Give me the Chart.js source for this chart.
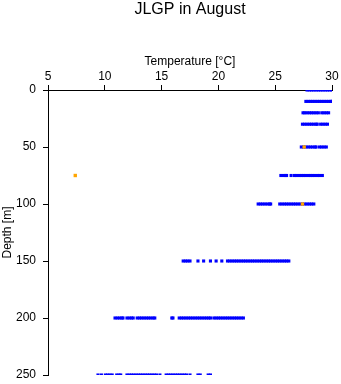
<!DOCTYPE html>
<html>
<head>
<meta charset="utf-8">
<script src="https://cdn.jsdelivr.net/npm/chart.js@4.4.0/dist/chart.umd.min.js"></script>
<style>
  html, body { margin: 0; padding: 0; background: #fff; }
</style>
</head>
<body>
<canvas id="chart" width="341" height="384"></canvas>
<script>
// Temperature readings [°C] at each sampled depth [m]
const temps0   = [27.8, 28.0, 28.2, 28.4, 28.6, 28.8, 29.0, 29.2, 29.4, 29.6, 29.8, 30.0, 30.1];
const temps10  = [27.7, 27.9, 28.1, 28.3, 28.5, 28.7, 28.9, 29.1, 29.3, 29.5, 29.7, 29.9, 30.0];
const temps20  = [27.45, 27.6, 27.8, 28.0, 28.2, 28.4, 28.6, 28.8, 29.1, 29.3, 29.5, 29.7];
const temps30  = [27.4, 27.6, 27.8, 28.0, 28.2, 28.4, 28.6, 28.7, 29.0, 29.2, 29.4, 29.6];
const temps50  = [27.3, 27.5, 27.7, 27.9, 28.1, 28.3, 28.5, 28.6, 28.9, 29.1, 29.3, 29.5];
const temps75  = [25.5, 25.7, 25.9, 26.0, 26.4, 26.7, 26.9, 27.1, 27.3, 27.5, 27.7, 27.9, 28.1,
                  28.3, 28.5, 28.7, 28.9, 29.15];
const temps100 = [23.5, 23.7, 23.9, 24.1, 24.3, 24.5, 24.6, 25.4, 25.6, 25.8, 26.0, 26.2, 26.4,
                  26.6, 26.8, 27.0, 27.2, 27.4, 27.6, 27.8, 28.0, 28.2, 28.4];
const temps150 = [16.9, 17.1, 17.3, 17.5, 18.2, 18.7, 19.3, 19.8, 20.3, 20.8, 21.0, 21.2, 21.4,
                  21.6, 21.8, 22.0, 22.2, 22.4, 22.6, 22.8, 23.0, 23.2, 23.4, 23.6, 23.8, 24.0,
                  24.2, 24.4, 24.6, 24.8, 25.0, 25.2, 25.4, 25.6, 25.8, 26.0, 26.2];
const temps200 = [10.9, 11.1, 11.3, 11.5, 11.6, 11.95, 12.15, 12.35, 12.5, 12.85, 13.05, 13.25,
                  13.45, 13.65, 13.85, 14.05, 14.25, 14.4, 15.9, 16.0, 16.55, 16.75, 16.95, 17.15,
                  17.35, 17.55, 17.75, 17.95, 18.15, 18.35, 18.55, 18.75, 18.95, 19.15, 19.3,
                  19.6, 19.8, 20.0, 20.2, 20.4, 20.6, 20.8, 21.0, 21.2, 21.4, 21.6, 21.8, 22.0, 22.2];
const temps250 = [9.4, 9.7, 10.05, 10.25, 10.45, 10.65, 11.05, 11.25, 11.4, 11.95, 12.15, 12.35,
                  12.55, 12.75, 12.95, 13.15, 13.35, 13.55, 13.75, 13.95, 14.15, 14.35, 14.55,
                  14.85, 15.4, 15.6, 15.8, 16.0, 16.2, 16.4, 16.6, 16.8, 17.0, 17.2, 17.5,
                  18.2, 18.4, 19.1, 19.3];

const depths = [0, 10, 20, 30, 50, 75, 100, 150, 200, 250];
const tempRows = [temps0, temps10, temps20, temps30, temps50, temps75, temps100, temps150, temps200, temps250];

// Highlighted (orange) readings
const orangeTemps  = [7.4, 27.55, 27.4];
const orangeDepths = [75, 50, 100];

const xTicks = [5, 10, 15, 20, 25, 30];
const yTicks = [0, 50, 100, 150, 200, 250];

const bluePoints = [];
depths.forEach((d, i) => {
    tempRows[i].forEach(t => bluePoints.push({ x: t, y: d }));
});
const orangePoints = orangeTemps.map((t, i) => ({ x: t, y: orangeDepths[i] }));

const FONT = "'Liberation Sans', Arial, sans-serif";

// Title centred over the plot area
const titlePlugin = {
    id: 'plotTitle',
    afterDraw(chart) {
        const ctx = chart.ctx;
        const area = chart.chartArea;
        ctx.save();
        ctx.fillStyle = '#000';
        ctx.font = '16px ' + FONT;
        ctx.textAlign = 'center';
        ctx.textBaseline = 'middle';
        ctx.fillText('JLGP in August', (area.left + area.right) / 2, 10);
        ctx.restore();
    }
};

new Chart(document.getElementById('chart'), {
    type: 'scatter',
    data: {
        // first dataset is drawn on top, so orange goes first
        datasets: [
            {
                data: orangePoints,
                backgroundColor: '#ffa500',
                borderWidth: 0,
                pointStyle: 'rect',
                pointRadius: 2.4
            },
            {
                data: bluePoints,
                backgroundColor: '#0000ff',
                borderWidth: 0,
                pointStyle: 'rect',
                pointRadius: 2.2
            }
        ]
    },
    options: {
        responsive: false,
        animation: false,
        layout: {
            padding: { top: 54, right: 9, bottom: 9, left: 0 }
        },
        plugins: {
            legend: { display: false },
            tooltip: { enabled: false }
        },
        scales: {
            x: {
                type: 'linear',
                position: 'top',
                min: 5,
                max: 30,
                afterBuildTicks: s => { s.ticks = xTicks.map(v => ({ value: v })); },
                afterFit: s => { s.height = 36; },
                ticks: {
                    color: '#000',
                    padding: 1,
                    font: { size: 12, family: FONT }
                },
                grid: {
                    drawOnChartArea: false,
                    drawTicks: true,
                    tickLength: 5,
                    color: '#000'
                },
                border: { color: '#000', width: 1 },
                title: {
                    display: true,
                    text: 'Temperature [°C]',
                    color: '#000',
                    padding: 0,
                    font: { size: 12, family: FONT }
                }
            },
            y: {
                type: 'linear',
                reverse: true,
                min: 0,
                max: 250,
                afterBuildTicks: s => { s.ticks = yTicks.map(v => ({ value: v })); },
                afterFit: s => {
                    s.width = 48;
                    // keep the tick labels from shrinking the plot area
                    s.paddingTop = 0;
                    s.paddingBottom = 0;
                },
                ticks: {
                    color: '#000',
                    padding: 7,
                    font: { size: 12, family: FONT }
                },
                grid: {
                    drawOnChartArea: false,
                    drawTicks: true,
                    tickLength: 5,
                    color: '#000'
                },
                border: { color: '#000', width: 1 },
                title: {
                    display: true,
                    text: 'Depth [m]',
                    color: '#000',
                    padding: 0,
                    font: { size: 12, family: FONT }
                }
            }
        }
    },
    plugins: [titlePlugin]
});
</script>
</body>
</html>
